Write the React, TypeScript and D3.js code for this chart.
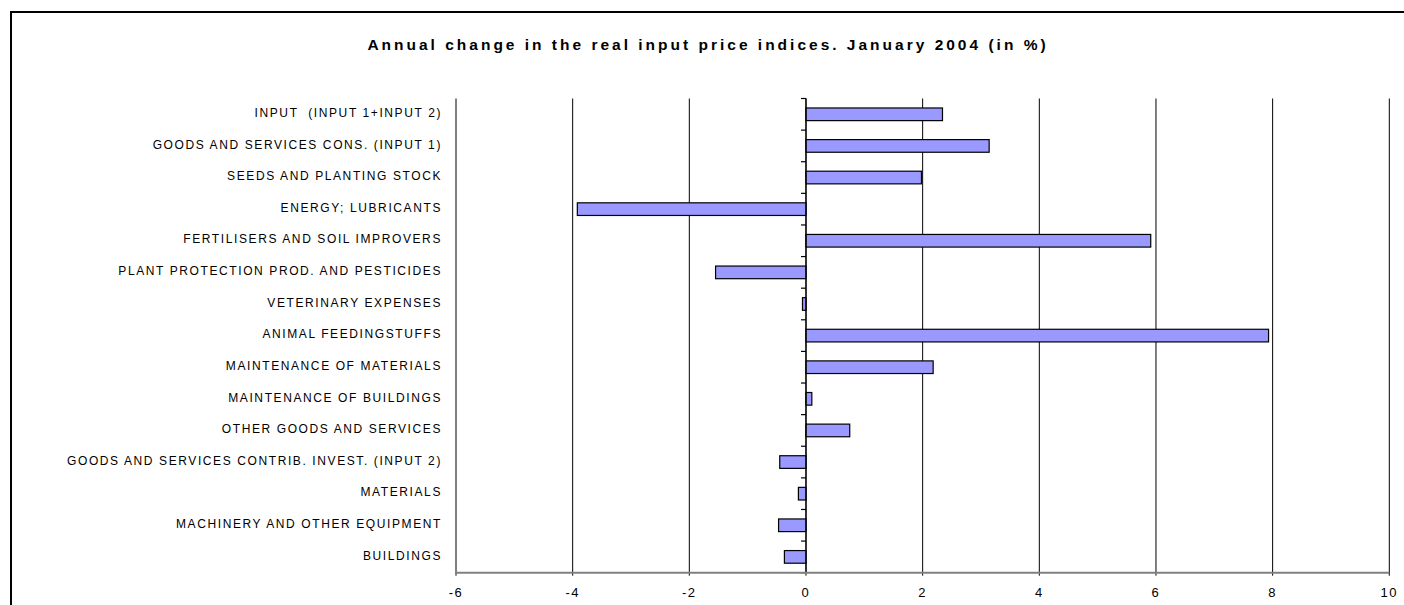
import React from "react";
import * as d3 from "d3";

const categories = [
  "INPUT  (INPUT 1+INPUT 2)",
  "GOODS AND SERVICES CONS. (INPUT 1)",
  "SEEDS AND PLANTING STOCK",
  "ENERGY; LUBRICANTS",
  "FERTILISERS AND SOIL IMPROVERS",
  "PLANT PROTECTION PROD. AND PESTICIDES",
  "VETERINARY EXPENSES",
  "ANIMAL FEEDINGSTUFFS",
  "MAINTENANCE OF MATERIALS",
  "MAINTENANCE OF BUILDINGS",
  "OTHER GOODS AND SERVICES",
  "GOODS AND SERVICES CONTRIB. INVEST. (INPUT 2)",
  "MATERIALS",
  "MACHINERY AND OTHER EQUIPMENT",
  "BUILDINGS",
];

const values = [2.34, 3.14, 1.98, -3.92, 5.91, -1.55, -0.06, 7.93, 2.18, 0.1, 0.75, -0.45, -0.13, -0.47, -0.37];

const xTicks = [-6, -4, -2, 0, 2, 4, 6, 8, 10];

const title = "Annual change in the real input price indices. January 2004 (in %)";

const W = 1404;
const H = 605;
const FONT = "'Liberation Sans', Arial, Helvetica, sans-serif";

export default function App() {
  const x = d3.scaleLinear().domain([-6, 10]).range([456, 1389.3]);
  const y = d3
    .scaleBand<string>()
    .domain(categories)
    .range([98.5, 572.7])
    .paddingInner(0.6)
    .paddingOuter(0.3);
  const [top, bottom] = y.range();
  const step = y.step();
  const boundaries = d3.range(categories.length + 1).map((i) => top + i * step);
  const x0 = x(0);

  return (
    <div style={{ position: "absolute", left: 0, top: 0 }}>
      <svg width={W} height={H} style={{ display: "block", background: "#fff" }}>
        <rect x={0} y={0} width={W} height={H} fill="#fff" />
        {/* outer border */}
        <rect x={11} y={12} width={W + 20} height={H + 20} fill="none" stroke="#000" strokeWidth={2} />
        <text
          x={708}
          y={50}
          textAnchor="middle"
          fontFamily={FONT}
          fontWeight="bold"
          fontSize={15.5}
          letterSpacing={3}
          fill="#000"
        >
          {title}
        </text>

        {/* gridlines */}
        {xTicks.map((t) => (
          <line
            key={"g" + t}
            x1={x(t)}
            x2={x(t)}
            y1={top}
            y2={bottom + 3}
            stroke="#000"
            strokeWidth={1}
          />
        ))}

        {/* bars */}
        {categories.map((c, i) => {
          const v = values[i];
          const x1 = Math.min(x(0), x(v));
          const w = Math.abs(x(v) - x(0));
          return (
            <rect
              key={c}
              x={x1}
              y={y(c)}
              width={w}
              height={y.bandwidth()}
              fill="#9999FF"
              stroke="#000"
              strokeWidth={1.2}
            />
          );
        })}

        {/* category axis at zero */}
        <line x1={x0} x2={x0} y1={top} y2={bottom} stroke="#000" strokeWidth={1.2} />
        {boundaries.map((b, i) => (
          <line key={"t" + i} x1={x0 - 5} x2={x0} y1={b} y2={b} stroke="#000" strokeWidth={1.2} />
        ))}

        {/* value axis */}
        <line x1={x(-6)} x2={x(10)} y1={bottom} y2={bottom} stroke="#808080" strokeWidth={2} />

        {/* tick labels */}
        {xTicks.map((t) => (
          <text
            key={"l" + t}
            x={x(t)}
            y={bottom + 24}
            textAnchor="middle"
            fontFamily={FONT}
            fontSize={13}
            letterSpacing={1.5}
            fill="#000"
          >
            {t}
          </text>
        ))}

        {/* category labels */}
        {categories.map((c) => (
          <text
            key={"c" + c}
            x={x(-6) - 14}
            y={(y(c) as number) + y.bandwidth() / 2 + 2.7}
            textAnchor="end"
            fontFamily={FONT}
            fontSize={12}
            letterSpacing={1.6}
            fill="#000"
            style={{ whiteSpace: "pre" }}
          >
            {c}
          </text>
        ))}
      </svg>
    </div>
  );
}
